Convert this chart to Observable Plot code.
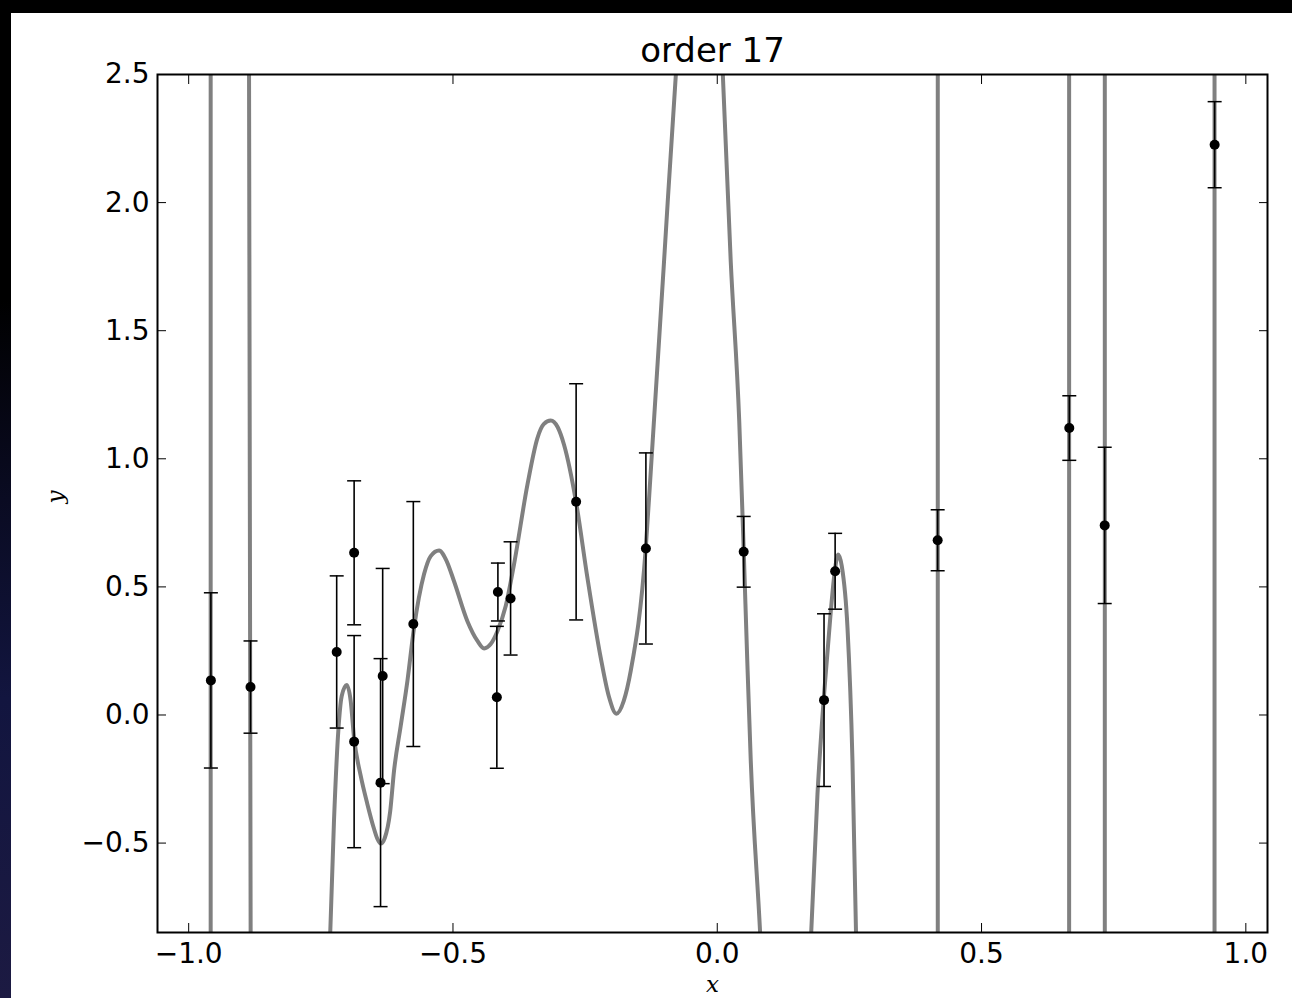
<!DOCTYPE html>
<html>
<head>
<meta charset="utf-8">
<script src="https://cdn.jsdelivr.net/npm/d3@7"></script>
<script src="https://cdn.jsdelivr.net/npm/@observablehq/plot@0.6"></script>
<style>
  html, body { margin: 0; padding: 0; background: #000; width: 1292px; height: 998px; overflow: hidden; }
  #strip { position: absolute; left: 0; top: 0; width: 11px; height: 998px;
    background: linear-gradient(to bottom, #000 0%, #000 30%, #0a0b22 50%, #12153f 70%, #1c1a42 100%); }
  #panel { position: absolute; left: 11px; top: 13px; width: 1281px; height: 985px; background: #fff; }
  #chart { position: absolute; left: 0; top: 0; }
  #chart svg { background: transparent; }
</style>
</head>
<body>
<div id="strip"></div>
<div id="panel"></div>
<div id="chart"></div>
<script>
// ---- data ----
const title = "order 17";
const xTicks = [-1.0, -0.5, 0.0, 0.5, 1.0];
const yTicks = [-0.5, 0.0, 0.5, 1.0, 1.5, 2.0, 2.5];

const pointX = [-0.958, -0.883, -0.720, -0.687, -0.687, -0.633, -0.637, -0.575, -0.415, -0.417,
                -0.391, -0.267, -0.135, 0.050, 0.202, 0.223, 0.417, 0.666, 0.733, 0.941];
const pointY = [0.135, 0.109, 0.246, 0.633, -0.104, 0.152, -0.264, 0.355, 0.480, 0.069,
                0.455, 0.832, 0.650, 0.637, 0.058, 0.561, 0.682, 1.120, 0.740, 2.226];
const pointErr = [0.342, 0.180, 0.297, 0.281, 0.414, 0.420, 0.484, 0.478, 0.113, 0.277,
                  0.221, 0.461, 0.373, 0.138, 0.337, 0.148, 0.119, 0.126, 0.305, 0.168];

// fitted order-17 curve, in on-screen pieces
const wiggleX = [
  -0.7330, -0.7251, -0.7156, -0.7105, -0.7010, -0.6935, -0.6872, -0.6745, -0.6619, -0.6500,
  -0.6433, -0.6367, -0.6290, -0.6190, -0.6115, -0.5989, -0.5862, -0.5737, -0.5548, -0.5421,
  -0.5264, -0.5118, -0.4980, -0.4727, -0.4537, -0.4412, -0.4286, -0.4159, -0.4002, -0.3845,
  -0.3591, -0.3402, -0.3283, -0.3150, -0.3018, -0.2899, -0.2672, -0.2456, -0.2204, -0.2053,
  -0.1907, -0.1769, -0.1637, -0.1353, -0.1258, -0.1007, -0.0785, -0.0766];
const wiggleY = [
  -0.90, -0.413, -0.023, 0.074, 0.117, 0.055, -0.088, -0.238, -0.348, -0.440,
  -0.482, -0.502, -0.480, -0.380, -0.218, -0.043, 0.133, 0.340, 0.549, 0.620,
  0.642, 0.600, 0.522, 0.366, 0.289, 0.260, 0.277, 0.327, 0.425, 0.588,
  0.899, 1.081, 1.135, 1.149, 1.123, 1.055, 0.832, 0.535, 0.223, 0.074,
  0.005, 0.055, 0.172, 0.650, 0.951, 1.770, 2.495, 2.55];
const dropX = [0.0095, 0.0255, 0.0416, 0.0501, 0.0568, 0.0634, 0.0814, 0.0823];
const dropY = [2.55, 1.770, 1.146, 0.639, 0.211, -0.179, -0.862, -0.90];
const bumpX = [0.1766, 0.1896, 0.2021, 0.2148, 0.2223, 0.2286, 0.2356, 0.2464, 0.2558, 0.2630];
const bumpY = [-0.90, -0.309, 0.081, 0.405, 0.561, 0.626, 0.581, 0.340, -0.179, -0.90];
// near-vertical pieces where the curve shoots through the whole frame
const steepSeg = ["a","a","b","b","f","f","g","g","h","h","i","i"];
const steepX = [-0.9584, -0.9584, -0.8859, -0.8827, 0.4172, 0.4172, 0.6657, 0.6657, 0.7332, 0.7332, 0.9408, 0.9408];
const steepY = [-0.95, 2.6, 2.6, -0.95, -0.95, 2.6, 2.6, -0.95, -0.95, 2.6, 2.6, -0.95];

// ---- build tables ----
const points = pointX.map((x, i) => ({x, y: pointY[i], lo: pointY[i] - pointErr[i], hi: pointY[i] + pointErr[i]}));
const piece = (xs, ys, s) => xs.map((x, i) => ({x, y: ys[i], s}));
const curve = [...piece(wiggleX, wiggleY, "c"), ...piece(dropX, dropY, "d"), ...piece(bumpX, bumpY, "e")];
const steep = steepX.map((x, i) => ({x, y: steepY[i], s: steepSeg[i]}));

const fmt = d => (d < 0 ? "\u2212" : "") + Math.abs(d).toFixed(1);
const cap = {draw(ctx, size) { const w = Math.sqrt(size / Math.PI); ctx.moveTo(-w, 0); ctx.lineTo(w, 0); }};
const FONT = "DejaVu Sans";
const GRAY = "#808080";

const chart = Plot.plot({
  width: 1292,
  height: 998,
  marginLeft: 157,
  marginRight: 25,
  marginTop: 74,
  marginBottom: 66,
  style: {background: "transparent", fontFamily: FONT},
  x: {domain: [-1.059, 1.041]},
  y: {domain: [-0.849, 2.5]},
  marks: [
    Plot.line(steep, {x: "x", y: "y", z: "s", stroke: GRAY, strokeWidth: 4, clip: true}),
    Plot.line(curve, {x: "x", y: "y", z: "s", stroke: GRAY, strokeWidth: 4, curve: "monotone-x", clip: true}),
    Plot.ruleX(points, {x: "x", y1: "lo", y2: "hi", stroke: "#000", strokeWidth: 1.6}),
    Plot.dot(points, {x: "x", y: "lo", symbol: cap, r: 7, stroke: "#000", strokeWidth: 1.5, fill: "none"}),
    Plot.dot(points, {x: "x", y: "hi", symbol: cap, r: 7, stroke: "#000", strokeWidth: 1.5, fill: "none"}),
    Plot.dot(points, {x: "x", y: "y", r: 5, fill: "#000", stroke: "none"}),
    Plot.frame({stroke: "#000", strokeWidth: 2}),
    Plot.axisX({anchor: "bottom", ticks: xTicks, tickSize: 9, dy: -9, tickPadding: 11, tickFormat: fmt, fontSize: 28, fontFamily: FONT, label: null, color: "#000"}),
    Plot.axisX({anchor: "top", ticks: xTicks, tickSize: 9, dy: 9, tickFormat: () => "", label: null}),
    Plot.axisY({anchor: "left", ticks: yTicks, tickSize: 9, dx: 9, tickPadding: 8, tickFormat: fmt, fontSize: 28, fontFamily: FONT, label: null, color: "#000"}),
    Plot.axisY({anchor: "right", ticks: yTicks, tickSize: 9, dx: -9, tickFormat: () => "", label: null}),
    Plot.text([title], {frameAnchor: "top", dy: -13, lineAnchor: "bottom", fontSize: 34, fontFamily: FONT, fill: "#000"}),
    Plot.text(["x"], {frameAnchor: "bottom", dy: 52, lineAnchor: "middle", fontSize: 23, fontFamily: "DejaVu Serif", fontStyle: "italic", fill: "#000"}),
    Plot.text(["y"], {frameAnchor: "left", dx: -102, rotate: -90, lineAnchor: "middle", fontSize: 23, fontFamily: "DejaVu Serif", fontStyle: "italic", fill: "#000"})
  ]
});
document.getElementById("chart").appendChild(chart);
</script>
</body>
</html>
